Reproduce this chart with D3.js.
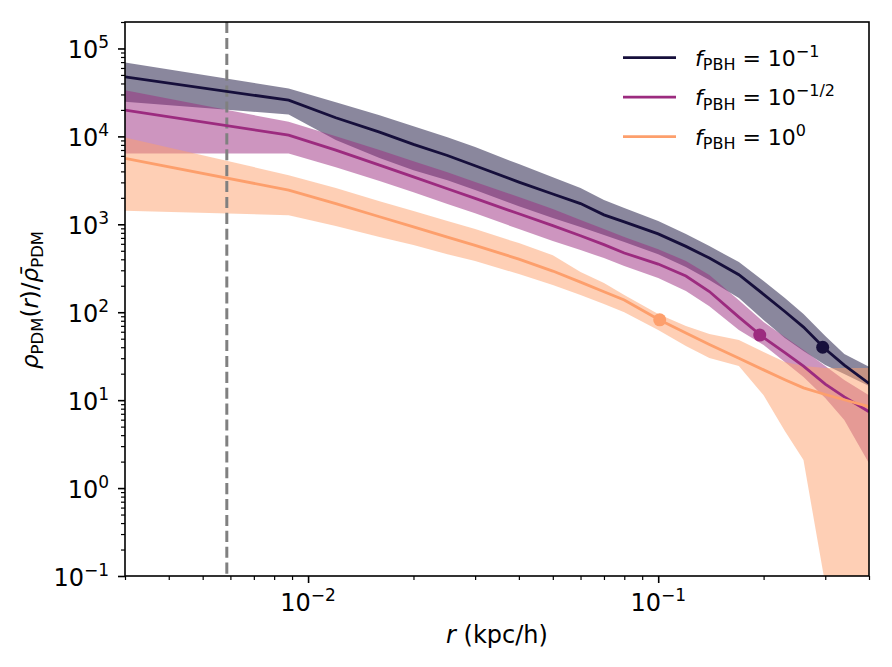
<!DOCTYPE html>
<html>
<head>
<meta charset="utf-8">
<script src="https://cdn.jsdelivr.net/npm/d3@7"></script>
<style>
  body { margin: 0; background: #fff; }
  svg { font-family: "DejaVu Sans", sans-serif; }
</style>
</head>
<body>
<div id="chart"></div>
<script>
// radial bins (kpc/h)
var radius = [0.003, 0.0088, 0.012, 0.016, 0.02, 0.025, 0.03, 0.04, 0.05, 0.06, 0.07, 0.08,
              0.1, 0.12, 0.14, 0.17, 0.2, 0.23, 0.26, 0.3, 0.34, 0.4];

// f_PBH = 10^-1
var densA = [47500, 25800, 16300, 11200, 8100, 6070, 4630, 3020, 2210, 1720, 1280, 1065,
             778, 561, 413, 267, 160, 102, 67.8, 38.1, 25.0, 15.5];
var upperA = [69300, 35100, 24500, 17400, 13080, 9800, 7550, 4840, 3440, 2580, 1885, 1530,
              1088, 774, 565, 372, 226, 145, 95.3, 53.6, 33.4, 24.0];
var lowerA = [24700, 17760, 9070, 5660, 4130, 3180, 2450, 1610, 1176, 929, 754, 628,
              458, 326, 232, 145, 81.4, 50.8, 36.2, 25.1, 19.8, 14.5];

// f_PBH = 10^-1/2
var densB = [19900, 10330, 6980, 4710, 3460, 2540, 1970, 1317, 967, 742, 588, 472,
             353, 258, 172, 88.1, 51.4, 34.7, 24.4, 15.2, 10.9, 7.38];
var upperB = [33560, 14640, 10060, 6980, 5230, 3920, 3020, 2040, 1490, 1116, 882, 715,
              522, 382, 265, 137, 77.3, 52.2, 37.1, 24.4, 16.9, 11.4];
var lowerB = [6400, 6400, 4470, 3100, 2320, 1700, 1340, 882, 644, 509, 413, 335,
              245, 174, 117, 62.7, 42.3, 27.1, 18.3, 10.6, 5.94, 1.91];

// f_PBH = 10^0
var densC = [5615, 2450, 1720, 1220, 934, 715, 576, 402, 294, 220, 171, 138,
             83.1, 57.9, 43.0, 29.9, 22.1, 17.1, 13.8, 11.6, 10.1, 8.44];
var upperC = [9730, 3625, 2580, 1835, 1413, 1088, 882, 611, 446, 286, 215, 157,
              95.3, 69.6, 56.4, 48.2, 35.2, 27.1, 24.4, 23.2, 23.2, 23.2];
var lowerC = [1424, 1272, 954, 715, 580, 458, 382, 272, 204, 157, 124, 100,
              62.7, 41.2, 30.1, 24.4, 11.4, 4.45, 2.08, 0.08, 0.01, 0.01];

// marked radii (dots)
var markR = [0.295, 0.195, 0.101];
var markV = [40, 55, 82];

var legendSup = ["\u22121", "\u22121/2", "0"];
var colors = ["#160f3b", "#9c2b7f", "#fd9f6c"];
var vline = 0.00586;

var yTicks = [0.1, 1, 10, 100, 1000, 10000, 100000];
var yExp = ["\u22121", "0", "1", "2", "3", "4", "5"];
var xTicks = [0.01, 0.1];
var xExp = ["\u22122", "\u22121"];

var margin = {top: 22, right: 23, bottom: 91, left: 125};
var w = 892 - margin.left - margin.right;
var h = 667 - margin.top - margin.bottom;

var svg = d3.select("#chart").append("svg")
    .attr("width", 892)
    .attr("height", 667)
    .append("g")
    .attr("transform", "translate(" + margin.left + "," + margin.top + ")");

var xScale = d3.scaleLog().domain([0.003, 0.4]).range([0, w]);
var yScale = d3.scaleLog().domain([0.1, 2e5]).range([h, 0]);

svg.append("clipPath").attr("id", "clip")
    .append("rect").attr("width", w).attr("height", h);

var plot = svg.append("g").attr("clip-path", "url(#clip)");

var series = [
    {mean: densA, lo: lowerA, hi: upperA},
    {mean: densB, lo: lowerB, hi: upperB},
    {mean: densC, lo: lowerC, hi: upperC}
];

var area = function (s) {
    return d3.area()
        .x(function (d, i) { return xScale(radius[i]); })
        .y0(function (d, i) { return yScale(s.lo[i]); })
        .y1(function (d, i) { return yScale(s.hi[i]); });
};
var line = function (s) {
    return d3.line()
        .x(function (d, i) { return xScale(radius[i]); })
        .y(function (d, i) { return yScale(s.mean[i]); });
};

// bands first
series.forEach(function (s, k) {
    plot.append("path")
        .attr("d", area(s)(radius))
        .attr("fill", colors[k])
        .attr("fill-opacity", 0.5);
});

// dashed resolution line
plot.append("line")
    .attr("x1", xScale(vline)).attr("x2", xScale(vline))
    .attr("y1", 0).attr("y2", h)
    .attr("stroke", "#808080")
    .attr("stroke-width", 3)
    .attr("stroke-dasharray", "11.1,4.8");

series.forEach(function (s, k) {
    plot.append("path")
        .attr("d", line(s)(radius))
        .attr("fill", "none")
        .attr("stroke", colors[k])
        .attr("stroke-width", 2.8);
});

plot.selectAll(".dot")
    .data(markR)
    .enter()
    .append("circle")
    .attr("class", "dot")
    .attr("cx", function (d) { return xScale(d); })
    .attr("cy", function (d, i) { return yScale(markV[i]); })
    .attr("r", 6.5)
    .attr("fill", function (d, i) { return colors[i]; });

// axes
var xMinor = [], yMinor = [];
[0.001, 0.01, 0.1].forEach(function (b) {
    for (var m = 2; m <= 9; m++) {
        var v = +(b * m).toPrecision(3);
        if (v >= 0.003 && v <= 0.4) xMinor.push(v);
    }
});
[0.1, 1, 10, 100, 1000, 10000, 100000].forEach(function (b) {
    for (var m = 2; m <= 9; m++) {
        var v = b * m;
        if (v <= 2e5) yMinor.push(v);
    }
});

var xAxisMajor = d3.axisBottom(xScale).tickValues(xTicks).tickSize(7).tickFormat("");
var xAxisMinor = d3.axisBottom(xScale).tickValues(xMinor).tickSize(4).tickFormat("");
var yAxisMajor = d3.axisLeft(yScale).tickValues(yTicks).tickSize(7).tickFormat("");
var yAxisMinor = d3.axisLeft(yScale).tickValues(yMinor).tickSize(4).tickFormat("");

[[xAxisMajor, 1.6, "x"], [xAxisMinor, 1.2, "x"], [yAxisMajor, 1.6, "y"], [yAxisMinor, 1.2, "y"]].forEach(function (a) {
    var gg = svg.append("g")
        .attr("transform", a[2] === "x" ? "translate(0," + h + ")" : null)
        .call(a[0]);
    gg.select(".domain").remove();
    gg.selectAll("line").attr("stroke", "#000").attr("stroke-width", a[1]);
});

svg.append("rect")
    .attr("width", w).attr("height", h)
    .attr("fill", "none")
    .attr("stroke", "#000")
    .attr("stroke-width", 1.6);

// tick labels with superscripts
yTicks.forEach(function (t, i) {
    var tx = svg.append("text")
        .attr("x", -16)
        .attr("y", yScale(t) + 10)
        .attr("text-anchor", "end")
        .attr("font-size", 24);
    tx.append("tspan").text("10");
    tx.append("tspan").attr("dy", -10).attr("font-size", 17).text(yExp[i]);
});
xTicks.forEach(function (t, i) {
    var tx = svg.append("text")
        .attr("x", xScale(t))
        .attr("y", h + 35)
        .attr("text-anchor", "middle")
        .attr("font-size", 24);
    tx.append("tspan").text("10");
    tx.append("tspan").attr("dy", -10).attr("font-size", 17).text(xExp[i]);
});

// axis labels
var xl = svg.append("text")
    .attr("x", w / 2)
    .attr("y", h + 67)
    .attr("text-anchor", "middle")
    .attr("font-size", 24);
xl.append("tspan").attr("font-style", "italic").text("r");
xl.append("tspan").text(" (kpc/h)");

var yl = svg.append("text")
    .attr("transform", "translate(" + (-87) + "," + (h / 2 + 1) + ") rotate(-90)")
    .attr("text-anchor", "middle")
    .attr("font-size", 23);
yl.append("tspan").attr("font-style", "italic").text("\u03c1");
yl.append("tspan").attr("dy", 5).attr("font-size", 16.5).text("PDM");
yl.append("tspan").attr("dy", -5).text("(");
yl.append("tspan").attr("font-style", "italic").text("r");
yl.append("tspan").text(")/");
yl.append("tspan").attr("font-style", "italic").text("\u03c1\u0304");
yl.append("tspan").attr("dy", 5).attr("font-size", 16.5).text("PDM");

// legend
var legend = svg.append("g").attr("transform", "translate(" + (623 - margin.left) + "," + (57.7 - margin.top) + ")");
legendSup.forEach(function (s, i) {
    var row = legend.append("g").attr("transform", "translate(0," + (i * 39.5) + ")");
    row.append("line")
        .attr("x1", 0).attr("x2", 53)
        .attr("stroke", colors[i])
        .attr("stroke-width", 2.8);
    var t = row.append("text")
        .attr("x", 72)
        .attr("y", 8)
        .attr("font-size", 22);
    t.append("tspan").attr("font-style", "italic").text("f");
    t.append("tspan").attr("dy", 4.5).attr("font-size", 16).text("PBH");
    t.append("tspan").attr("dy", -4.5).text(" = 10");
    t.append("tspan").attr("dy", -9).attr("font-size", 16).text(s);
});
</script>
</body>
</html>
